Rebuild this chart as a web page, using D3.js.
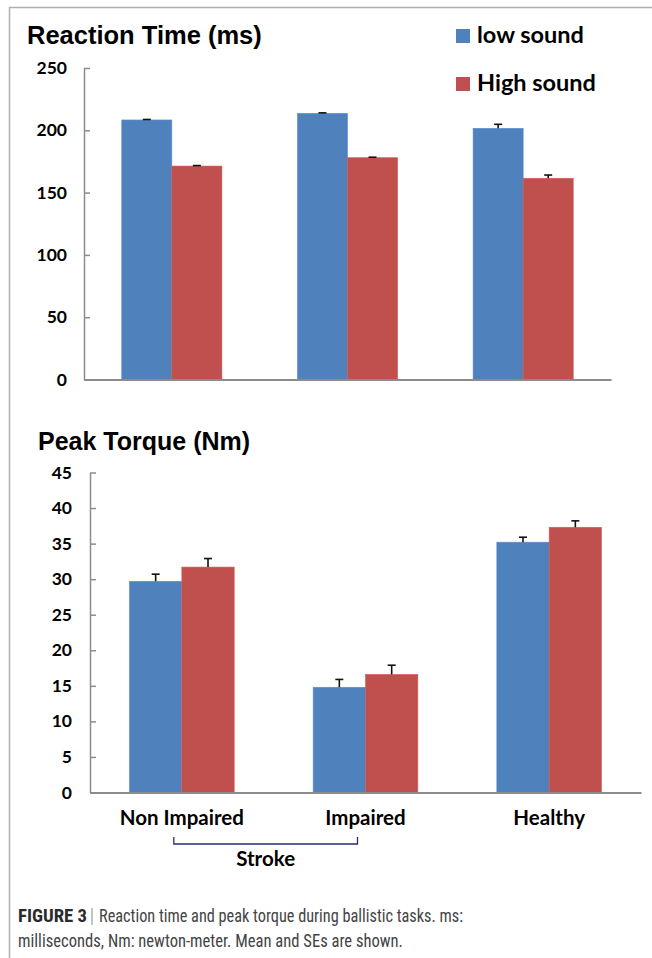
<!DOCTYPE html>
<html>
  <head>
    <meta charset="utf-8">
    <title>Reaction time and peak torque</title>
    <script type="text/javascript" src="https://d3js.org/d3.v7.min.js"></script>
    <style>
      body { margin: 0; background: #fff; }
    </style>
  </head>
  <body>
    <div id="chart"></div>
    <script type="text/javascript">
      // groups and series
      var groups = ["Non Impaired", "Impaired", "Healthy"];
      var series = ["low sound", "High sound"];
      var colors = ["#4f81bd", "#c0504d"];

      // reaction time (ms), mean and SE
      var rtLow = [208.3, 213.6, 201.6];
      var rtLowErr = [0.4, 0.4, 3.2];
      var rtHigh = [171.3, 178.0, 161.5];
      var rtHighErr = [0.4, 0.4, 2.6];
      var rtTicks = [0, 50, 100, 150, 200, 250];

      // peak torque (Nm), mean and SE
      var ptLow = [29.7, 14.8, 35.2];
      var ptLowErr = [1.0, 1.1, 0.7];
      var ptHigh = [31.7, 16.6, 37.3];
      var ptHighErr = [1.2, 1.3, 0.9];
      var ptTicks = [0, 5, 10, 15, 20, 25, 30, 35, 40, 45];

      var W = 652, H = 958;
      var labelFont = "Lato, 'Open Sans', sans-serif";
      var titleFont = "'Liberation Sans', Arial, sans-serif";

      var svg = d3.select("#chart").append("svg")
        .attr("width", W)
        .attr("height", H)
        .style("background", "#fff");

      // figure frame (top and left border)
      svg.append("line").attr("x1", 9).attr("x2", W).attr("y1", 7.5).attr("y2", 7.5)
        .attr("stroke", "#b0b0b0").attr("stroke-width", 1.5);
      svg.append("line").attr("x1", 9.5).attr("x2", 9.5).attr("y1", 7).attr("y2", H)
        .attr("stroke", "#b0b0b0").attr("stroke-width", 1.5);

      function drawPanel(opt) {
        var x0 = d3.scaleBand().domain(groups)
          .range([opt.left, opt.right])
          .paddingInner(0.43).paddingOuter(0.215);
        var x1 = d3.scaleBand().domain(series).range([0, x0.bandwidth()]);
        var y = d3.scaleLinear().domain([0, opt.max]).range([opt.bottom, opt.top]);

        var rows = [];
        groups.forEach(function(g, i) {
          rows.push({g: g, s: series[0], v: opt.low[i], e: opt.lowErr[i], c: colors[0]});
          rows.push({g: g, s: series[1], v: opt.high[i], e: opt.highErr[i], c: colors[1]});
        });

        svg.append("text")
          .attr("x", opt.titleX).attr("y", opt.titleY)
          .attr("font-family", titleFont).attr("font-weight", "bold")
          .attr("font-size", opt.titleSize)
          .attr("fill", "#000")
          .text(opt.title);

        svg.append("g").selectAll("rect")
          .data(rows)
          .enter()
          .append("rect")
            .attr("x", function(d) { return x0(d.g) + x1(d.s); })
            .attr("y", function(d) { return y(d.v); })
            .attr("width", x1.bandwidth())
            .attr("height", function(d) { return y(0) - y(d.v); })
            .attr("fill", function(d) { return d.c; })
            .attr("stroke", function(d) { return d3.color(d.c).brighter(0.3); })
            .attr("stroke-width", 0.6);

        // error bars (upper only)
        var eb = svg.append("g").selectAll("g")
          .data(rows)
          .enter()
          .append("g")
          .attr("stroke", "#111").attr("stroke-width", 1.6);
        eb.append("line")
          .attr("x1", function(d) { return x0(d.g) + x1(d.s) + x1.bandwidth() / 2; })
          .attr("x2", function(d) { return x0(d.g) + x1(d.s) + x1.bandwidth() / 2; })
          .attr("y1", function(d) { return y(d.v); })
          .attr("y2", function(d) { return y(d.v + d.e); });
        eb.append("line")
          .attr("x1", function(d) { return x0(d.g) + x1(d.s) + x1.bandwidth() / 2 - 4; })
          .attr("x2", function(d) { return x0(d.g) + x1(d.s) + x1.bandwidth() / 2 + 4; })
          .attr("y1", function(d) { return y(d.v + d.e); })
          .attr("y2", function(d) { return y(d.v + d.e); });

        // y axis, ticks pointing inward
        var yAxis = svg.append("g")
          .attr("transform", "translate(" + opt.left + ",0)")
          .call(d3.axisLeft(y).tickValues(opt.ticks).tickSize(-6).tickSizeOuter(0).tickPadding(opt.tickPad));
        yAxis.select(".domain").attr("stroke", "#8c8c8c").attr("stroke-width", 1.5);
        yAxis.selectAll(".tick line").attr("stroke", "#8c8c8c").attr("stroke-width", 1.5);
        yAxis.selectAll(".tick text")
          .attr("font-family", labelFont).attr("font-weight", "bold")
          .attr("font-size", 17.5).attr("fill", "#000");

        // x axis
        var xAxis = svg.append("g")
          .attr("transform", "translate(0," + y(0) + ")")
          .call(d3.axisBottom(x0).tickSize(0).tickSizeOuter(0).tickPadding(18));
        xAxis.select(".domain").attr("stroke", "#8c8c8c").attr("stroke-width", 2);
        xAxis.selectAll(".tick text")
          .attr("font-family", labelFont).attr("font-weight", "bold")
          .attr("font-size", 20.5).attr("fill", "#000")
          .style("display", opt.showCats ? null : "none");

        return {x0: x0, y: y};
      }

      drawPanel({
        title: "Reaction Time (ms)", titleX: 27, titleY: 44, titleSize: 25.5,
        left: 84, right: 611, top: 68, bottom: 379.5, max: 250, tickPad: 17,
        ticks: rtTicks, low: rtLow, lowErr: rtLowErr, high: rtHigh, highErr: rtHighErr,
        showCats: false
      });

      var bottomPanel = drawPanel({
        title: "Peak Torque (Nm)", titleX: 38, titleY: 450, titleSize: 25,
        left: 90, right: 641, top: 472.5, bottom: 792.5, max: 45, tickPad: 18,
        ticks: ptTicks, low: ptLow, lowErr: ptLowErr, high: ptHigh, highErr: ptHighErr,
        showCats: true
      });

      // legend
      var legend = svg.append("g").selectAll("g")
        .data(series)
        .enter()
        .append("g")
        .attr("transform", function(d, i) { return "translate(456," + (29 + i * 48) + ")"; });
      legend.append("rect")
        .attr("width", 14).attr("height", 14)
        .attr("fill", function(d, i) { return colors[i]; });
      legend.append("text")
        .attr("x", 21).attr("y", 14)
        .attr("font-family", labelFont).attr("font-weight", "bold")
        .attr("font-size", 23.5).attr("fill", "#000")
        .text(function(d) { return d; });

      // stroke bracket under the first two groups
      var bx0 = bottomPanel.x0;
      var bA = bx0("Non Impaired") + bx0.bandwidth() / 2 - 8;
      var bB = bx0("Impaired") + bx0.bandwidth() / 2 - 8;
      svg.append("path")
        .attr("d", "M" + bA + ",837V844H" + bB + "V837")
        .attr("fill", "none").attr("stroke", "#24306e").attr("stroke-width", 1.3);
      svg.append("text")
        .attr("x", (bA + bB) / 2).attr("y", 866)
        .attr("text-anchor", "middle")
        .attr("font-family", labelFont).attr("font-weight", "bold")
        .attr("font-size", 20.5).attr("fill", "#000")
        .text("Stroke");

      // caption
      var capFont = "'Liberation Sans Narrow', 'Roboto Condensed', 'Liberation Sans', sans-serif";
      svg.append("text")
        .attr("x", 18).attr("y", 922)
        .attr("font-family", capFont).attr("font-size", 18)
        .attr("font-weight", "bold").attr("fill", "#2b2b2b")
        .attr("textLength", 69).attr("lengthAdjust", "spacingAndGlyphs")
        .text("FIGURE 3");
      svg.append("line")
        .attr("x1", 92).attr("x2", 92).attr("y1", 908).attr("y2", 925)
        .attr("stroke", "#888").attr("stroke-width", 1);
      svg.append("text")
        .attr("x", 99).attr("y", 922)
        .attr("font-family", capFont).attr("font-size", 18).attr("fill", "#444")
        .attr("textLength", 364).attr("lengthAdjust", "spacingAndGlyphs")
        .text("Reaction time and peak torque during ballistic tasks. ms:");
      svg.append("text")
        .attr("x", 18).attr("y", 947)
        .attr("font-family", capFont).attr("font-size", 18).attr("fill", "#444")
        .attr("textLength", 385).attr("lengthAdjust", "spacingAndGlyphs")
        .text("milliseconds, Nm: newton-meter. Mean and SEs are shown.");
    </script>
  </body>
</html>
